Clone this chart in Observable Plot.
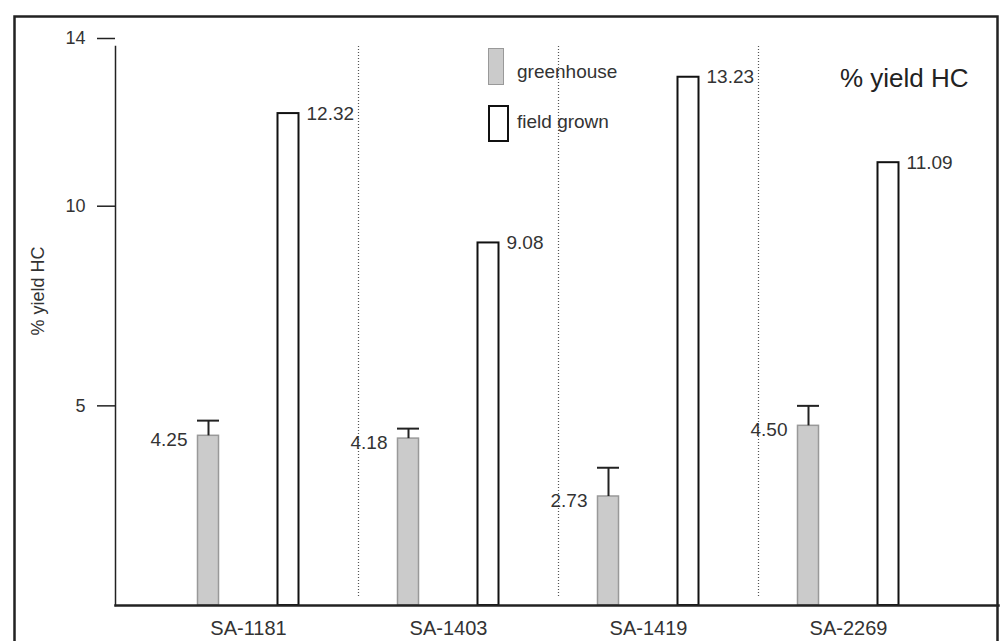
<!DOCTYPE html>
<html><head><meta charset="utf-8">
<script src="https://cdn.jsdelivr.net/npm/d3@7"></script>
<script src="https://cdn.jsdelivr.net/npm/@observablehq/plot@0.6"></script>
<style>
body{margin:0;background:#fff;}
#wrap{position:relative;width:1000px;height:641px;overflow:hidden;font-family:"Liberation Sans",Arial,sans-serif;}
.sw{position:absolute;box-sizing:border-box;}
.lt{position:absolute;font-size:19px;color:#333;line-height:1;}
</style></head><body><div id="wrap"></div>
<script>
// ---- data ----
const categories = ["SA-1181", "SA-1403", "SA-1419", "SA-2269"];
const greenhouse = [4.25, 4.18, 2.73, 4.50];
const greenhouseErr = [0.38, 0.25, 0.72, 0.50];
const fieldGrown = [12.32, 9.08, 13.23, 11.09];
const yTicks = [5, 10, 14];
const legendLabels = ["greenhouse", "field grown"];
const yLabel = "% yield HC";
const title = "% yield HC";

const gh = categories.map((c, i) => ({cat: c, value: greenhouse[i], err: greenhouseErr[i]}));
const fg = categories.map((c, i) => ({cat: c, value: fieldGrown[i]}));

const font = '"Liberation Sans", Arial, sans-serif';
const chart = Plot.plot({
  width: 1000,
  height: 641,
  marginLeft: 115,
  marginTop: 46,
  marginBottom: 36,
  marginRight: 2,
  style: {fontFamily: font, background: "#fff", color: "#222"},
  x: {domain: categories, range: [148, 948], padding: 0},
  y: {domain: [0, 14]},
  marks: [
    Plot.frame({insetLeft: -101, insetTop: -30, insetRight: 1, insetBottom: -60, stroke: "#222", strokeWidth: 2.5}),
    Plot.ruleX(categories.slice(0, 3), {x: d => d, dx: 110, insetBottom: 7, stroke: "#555", strokeWidth: 1.2, strokeDasharray: "1,2"}),
    Plot.barY(gh, {x: "cat", y: "value", fill: "#cbcbcb", stroke: "#999", strokeWidth: 1.5, insetLeft: 49.5, insetRight: 129.5}),
    Plot.barY(fg, {x: "cat", y: "value", fill: "#fff", stroke: "#111", strokeWidth: 2, insetLeft: 129.5, insetRight: 49.5}),
    Plot.ruleX(gh, {x: "cat", y1: "value", y2: d => d.value + d.err, dx: -40, stroke: "#222", strokeWidth: 2}),
    Plot.tickY(gh, {x: "cat", y: d => d.value + d.err, insetLeft: 49, insetRight: 129, stroke: "#222", strokeWidth: 2}),
    Plot.text(gh, {x: "cat", y: "value", text: d => d.value.toFixed(2), dx: -61, dy: 4, textAnchor: "end", fontSize: 19, fill: "#333"}),
    Plot.text(fg, {x: "cat", y: "value", text: d => d.value.toFixed(2), dx: 58, dy: 0, textAnchor: "start", fontSize: 19, fill: "#333"}),
    Plot.frame({anchor: "left", stroke: "#222", strokeWidth: 1.5}),
    Plot.frame({anchor: "bottom", stroke: "#222", strokeWidth: 2.5}),
    Plot.axisY(yTicks.filter(t => t !== 14), {tickSize: 18, tickPadding: 12, fontSize: 18, label: null, stroke: "#222", strokeWidth: 1.5, fill: "#333"}),
    Plot.axisY(yTicks.filter(t => t === 14), {tickSize: 18, tickPadding: 12, fontSize: 18, label: null, stroke: "#222", strokeWidth: 1.5, fill: "#333", dy: -8}),
    Plot.axisX({tickSize: 0, tickPadding: 15, fontSize: 20, label: null, fill: "#333"}),
    Plot.text([yLabel], {frameAnchor: "left", dx: -77, dy: -35, rotate: -90, textAnchor: "middle", fontSize: 18, fill: "#333"}),
    Plot.text([title], {frameAnchor: "top-right", dx: -30, dy: 22, textAnchor: "end", fontSize: 26, fill: "#222"})
  ]
});
const wrap = document.getElementById("wrap");
wrap.appendChild(chart);

// legend overlay
const legendSw = [
  {left: 488, top: 48, w: 16, h: 37, textTop: 62, style: "background:#cbcbcb;border:1.5px solid #999;"},
  {left: 488, top: 105, w: 21, h: 37, textTop: 112, style: "background:#fff;border:2px solid #111;"}
];
legendLabels.forEach((lab, i) => {
  const s = legendSw[i];
  const sw = document.createElement("div");
  sw.className = "sw";
  sw.style.cssText = `left:${s.left}px;top:${s.top}px;width:${s.w}px;height:${s.h}px;${s.style}`;
  wrap.appendChild(sw);
  const t = document.createElement("div");
  t.className = "lt";
  t.textContent = lab;
  t.style.left = "517px";
  t.style.top = s.textTop + "px";
  wrap.appendChild(t);
});
</script></body></html>
